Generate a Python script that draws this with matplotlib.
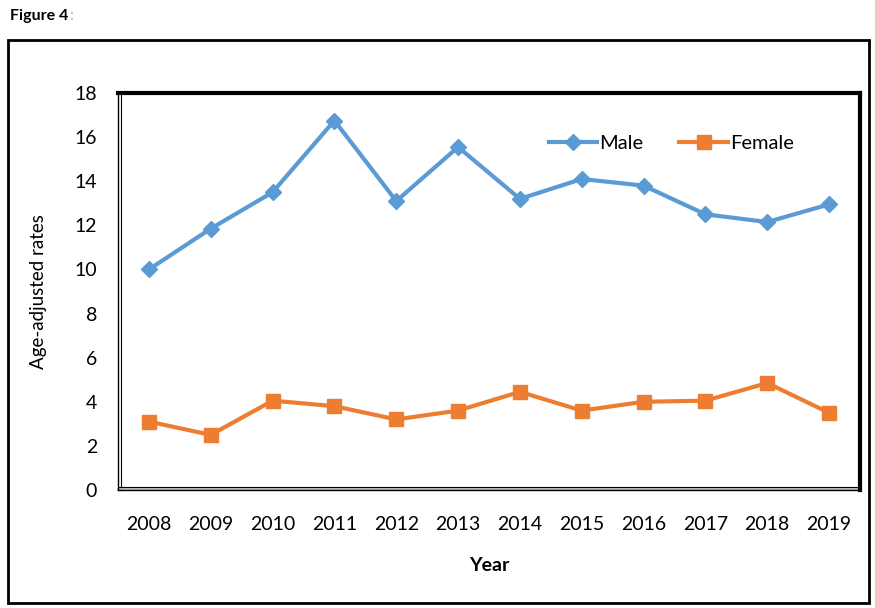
import numpy as np
import matplotlib
matplotlib.use("Agg")
import matplotlib.pyplot as plt
import matplotlib.transforms as mtrans
from matplotlib.patches import Rectangle

plt.rcParams['font.family'] = ['Lato', 'DejaVu Sans']

years = ['2008', '2009', '2010', '2011', '2012', '2013', '2014', '2015', '2016', '2017', '2018', '2019']
male = [10.0, 11.85, 13.5, 16.75, 13.1, 15.55, 13.2, 14.1, 13.8, 12.5, 12.15, 12.95]
female = [3.1, 2.5, 4.05, 3.8, 3.2, 3.6, 4.45, 3.6, 4.0, 4.05, 4.85, 3.5]
yticks = [0, 2, 4, 6, 8, 10, 12, 14, 16, 18]

fig = plt.figure(figsize=(8.75, 6.08), dpi=100)
ax = fig.add_axes([118/875, 1 - 490/608, 742/875, 397/608])

x = np.arange(len(years))
ax.plot(x, male, color='#5B9BD5', lw=3, marker='D', ms=8, label='Male')
ax.plot(x, female, color='#ED7D31', lw=3, marker='s', ms=10.5, label='Female')

ax.set_xlim(-0.5, len(years) - 0.5)
ax.set_ylim(0, 18)
ax.set_xticks(x)
ax.set_xticklabels(years)
ax.set_yticks(yticks)
ax.tick_params(length=0, labelsize=14)
ax.tick_params(axis='x', pad=19)
ax.tick_params(axis='y', pad=15)

ax.set_ylabel('Age-adjusted rates', fontsize=13.5, labelpad=20)
ax.set_xlabel('Year', fontsize=14, fontweight='bold', labelpad=17)

# Excel style frame: thick top/right, thin doubled left/bottom
for s in ['top', 'right']:
    ax.spines[s].set_linewidth(3)
for s in ['left', 'bottom']:
    ax.spines[s].set_linewidth(1)
off_l = mtrans.offset_copy(ax.transAxes, fig=fig, x=3, y=0, units='dots')
off_b = mtrans.offset_copy(ax.transAxes, fig=fig, x=0, y=3, units='dots')
ax.plot([0, 0], [0, 1], color='black', lw=0.8, transform=off_l, clip_on=False)
ax.plot([0, 1], [0, 0], color='#bbbbbb', lw=2, transform=mtrans.offset_copy(ax.transAxes, fig=fig, x=0, y=1.5, units='dots'), clip_on=False)
ax.plot([0, 1], [0, 0], color='black', lw=0.8, transform=off_b, clip_on=False)

ax.legend(loc='upper right', bbox_to_anchor=(0.935, 0.94), ncol=2, frameon=False,
          fontsize=14.5, handlelength=2.4, handletextpad=0.1, columnspacing=1.8)

# outer border of the chart
fig.patches.append(Rectangle((8/875, 5/608), 861/875, 563/608, transform=fig.transFigure,
                             fill=False, edgecolor='black', lw=2))

t = fig.text(10/875, 1 - 16/608, 'Figure 4', fontsize=11.5, fontweight='bold', va='center')
fig.text(0, 0, ':', fontsize=11.5, color='#d8b070', va='center',
         transform=mtrans.offset_copy(fig.transFigure, fig=fig, x=0, y=0))
fig.texts[-1].remove()
ax.annotate(':', xy=(1, 0.5), xycoords=t, xytext=(1, 0), textcoords='offset points',
            fontsize=11.5, color='#d8b070', va='center', ha='left', annotation_clip=False)

fig.savefig('out.png', dpi=100)
